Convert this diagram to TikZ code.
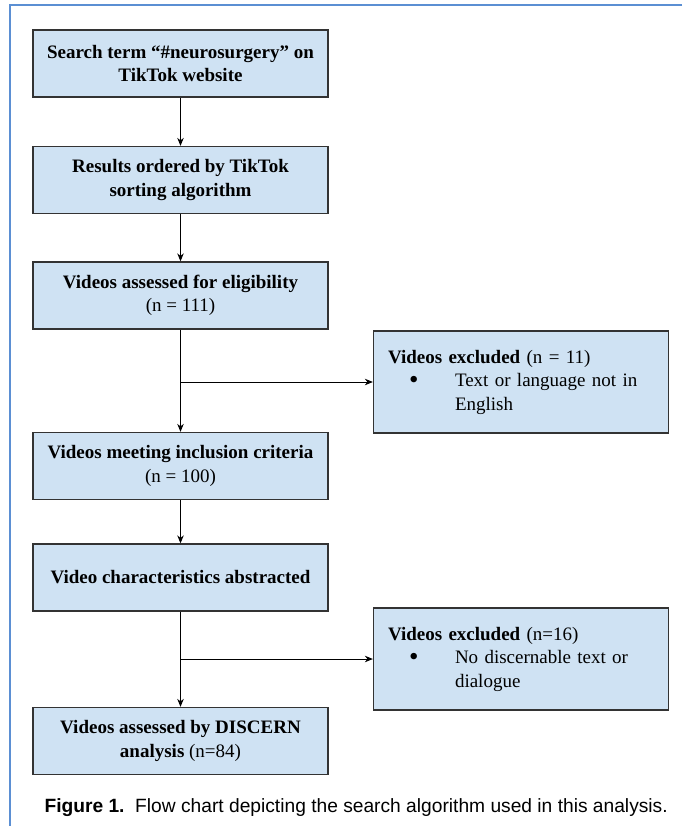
\documentclass[tikz,border=0pt]{standalone}
\usepackage{fontspec}
\usetikzlibrary{arrows.meta}
\setmainfont{Liberation Serif}
\newfontfamily\capfont{Liberation Sans}
\definecolor{boxfill}{HTML}{CFE2F3}
\definecolor{boxline}{HTML}{333333}
\definecolor{framecol}{HTML}{5B8FD3}
\newcommand{\bigdot}{\raisebox{-1.5pt}{\fontsize{27}{27}\selectfont\textbullet}}
\begin{document}
\begin{tikzpicture}[x=1pt,y=-1pt]
						\tikzset{flow box/.style={draw=boxline,fill=boxfill,line width=1.3pt,minimum width=295pt,minimum height=67pt,inner sep=0pt,align=center,font=\fontsize{19}{23.5}\selectfont},
							excl box/.style={flow box,minimum height=102pt,text width=266pt,align=left},
							flow arrow/.style={-{Stealth[length=8pt,width=6.5pt]},line width=1pt}}
						\useasboundingbox (0,0) rectangle (682,826);
						\draw [framecol,line width=2.5pt] (682,5) -- (10,5) -- (10,826);
						\node [flow box] (search) at (180.5,63.5)						{\textbf{Search term “\#neurosurgery” on}\\\textbf{TikTok website}};
						\node [flow box] (sorted) at (180.5,180)						{\textbf{Results ordered by TikTok}\\\textbf{sorting algorithm}};
						\node [flow box] (assessed) at (180.5,295.5)					{\textbf{Videos assessed for eligibility}\\(n = 111)};
						\node [excl box] (exclA) at (521,382)							{\textbf{Videos excluded} (n = 11)\\\makebox[67pt][l]{\hspace{21pt}\bigdot}Text or language not in\\\hspace*{67pt}English};
						\node [flow box] (included) at (180.5,466)						{\textbf{Videos meeting inclusion criteria}\\(n = 100)};
						\node [flow box] (abstracted) at (180.5,577.5)					{\textbf{Video characteristics abstracted}};
						\node [excl box] (exclB) at (521,659)							{\textbf{Videos excluded} (n=16)\\\makebox[67pt][l]{\hspace{21pt}\bigdot}No discernable text or\\\hspace*{67pt}dialogue};
						\node [flow box] (discern) at (180.5,741)						{\textbf{Videos assessed by DISCERN}\\\textbf{analysis} (n=84)};
						\node [anchor=base west,font=\capfont\fontsize{19.2}{22}\selectfont] (caption) at (41,812)	{\textbf{Figure 1.}\ \ Flow chart depicting the search algorithm used in this analysis.};
						% arrows
						\draw [flow arrow] (search) -- (sorted);
						\draw [flow arrow] (sorted) -- (assessed);
						\draw [flow arrow] (assessed) -- (included);
						\draw [flow arrow] (included) -- (abstracted);
						\draw [flow arrow] (abstracted) -- (discern);
						\draw [flow arrow] (assessed.south |- exclA.west) -- (exclA.west);
						\draw [flow arrow] (abstracted.south |- exclB.west) -- (exclB.west);
					\end{tikzpicture}
\end{document}
